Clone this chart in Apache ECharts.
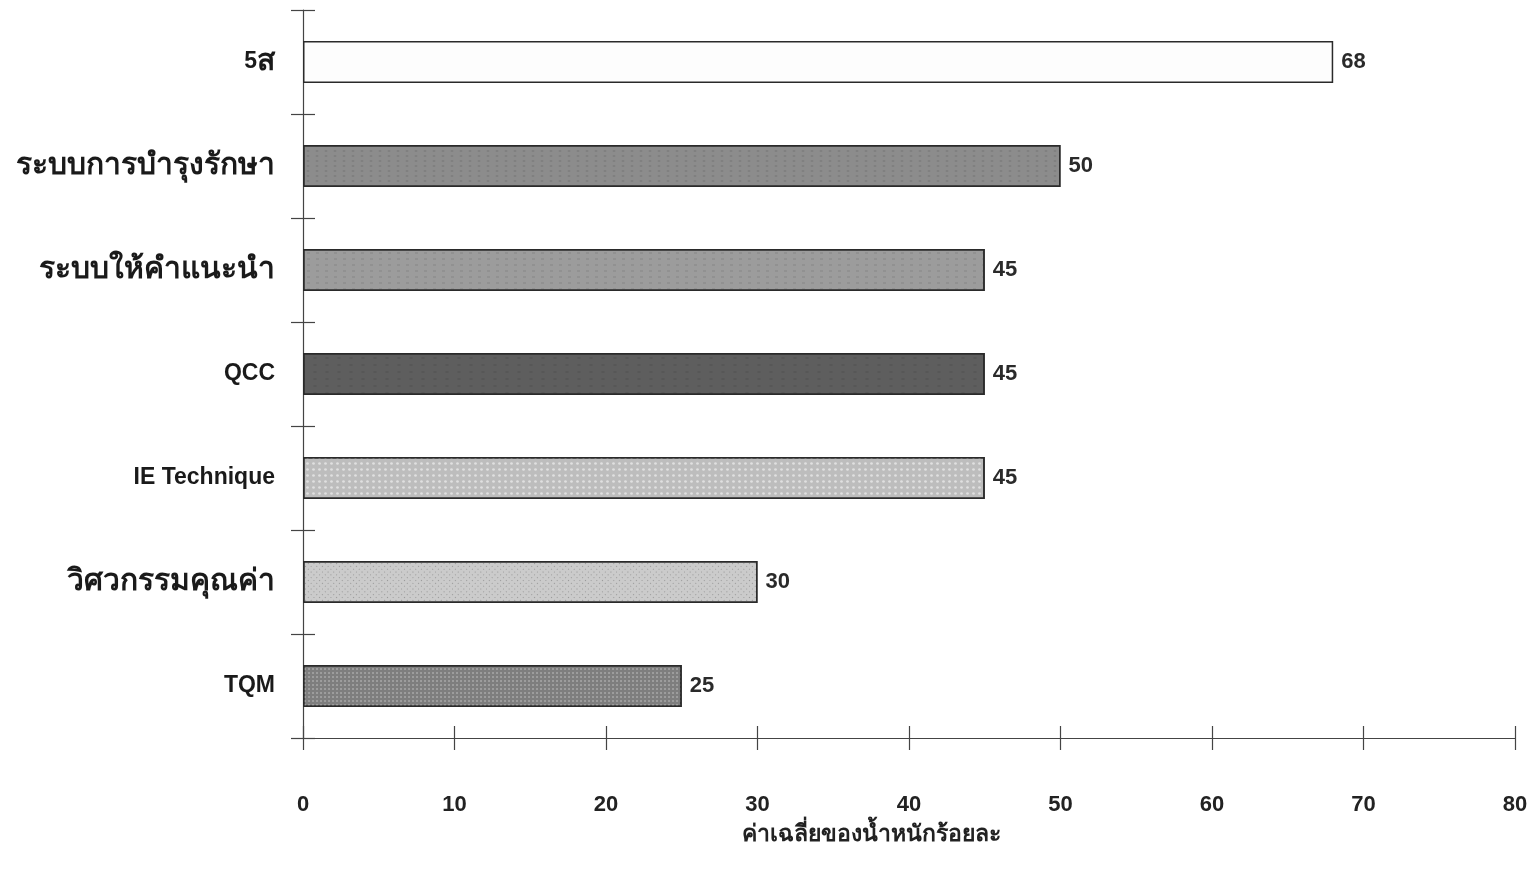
<!DOCTYPE html>
<html>
<head>
<meta charset="utf-8">
<script src="https://cdn.jsdelivr.net/npm/echarts@6/dist/echarts.min.js"></script>
<style>
  html, body { margin: 0; padding: 0; background: #ffffff; }
  #chart { width: 1533px; height: 877px; }
</style>
</head>
<body>
<div id="chart"></div>
<script>
// Categories listed top to bottom
const categories = ['5ส', 'ระบบการบำรุงรักษา', 'ระบบให้คำแนะนำ', 'QCC', 'IE Technique', 'วิศวกรรมคุณค่า', 'TQM'];
const values = [68, 50, 45, 45, 45, 30, 25];
const xTicks = [0, 10, 20, 30, 40, 50, 60, 70, 80];
const xTitle = 'ค่าเฉลี่ยของน้ำหนักร้อยละ';

// Fill and texture for each bar, top to bottom
const fills = ['#fdfdfd', '#8c8c8c', '#9c9c9c', '#5e5e5e', '#bdbdbd', '#cbcbcb', '#7e7e7e'];
const decals = [
  null,
  { symbol: 'rect', symbolSize: 0.6, dashArrayX: [[4, 5]], dashArrayY: [2, 3], color: 'rgba(60,60,60,0.25)' },
  { symbol: 'rect', symbolSize: 0.6, dashArrayX: [[5, 4]], dashArrayY: [2, 4], color: 'rgba(70,70,70,0.2)' },
  { symbol: 'rect', symbolSize: 0.5, dashArrayX: [[6, 6]], dashArrayY: [2, 5], color: 'rgba(40,40,40,0.25)' },
  { symbol: 'circle', symbolSize: 0.9, dashArrayX: [[3, 3]], dashArrayY: [3, 3], color: 'rgba(240,240,240,0.7)' },
  { symbol: 'rect', symbolSize: 1, dashArrayX: [[1, 3]], dashArrayY: [1, 3], rotation: Math.PI / 4, color: 'rgba(90,90,90,0.45)' },
  { symbol: 'rect', symbolSize: 0.8, dashArrayX: [[2, 2]], dashArrayY: [2, 2], color: 'rgba(220,220,220,0.55)' }
];

const font = "'Liberation Sans', Arial, 'Noto Sans', sans-serif";
const thaiRun = /([\u0E00-\u0E7F]+)/;

// Thai script runs get a larger rich style so they balance with the Latin labels
function splitScripts(s) {
  return s.split(thaiRun).filter(p => p.length).map(p =>
    thaiRun.test(p) ? '{th|' + p + '}' : '{la|' + p + '}'
  ).join('');
}

const chart = echarts.init(document.getElementById('chart'), null, { renderer: 'canvas' });

const seriesData = values.map((v, i) => ({
  value: v,
  itemStyle: Object.assign(
    { color: fills[i], borderColor: '#2a2a2a', borderWidth: 1.5 },
    decals[i] ? { decal: decals[i] } : {}
  )
}));

chart.setOption({
  animation: false,
  backgroundColor: '#ffffff',
  aria: { enabled: false, decal: { show: true } },
  title: {
    text: xTitle,
    left: 737,
    top: 818,
    textStyle: { fontFamily: font, fontSize: 23, fontWeight: 'bold', color: '#222' }
  },
  grid: { left: 303, right: 18, top: 10, bottom: 139, containLabel: false },
  xAxis: [
    {
      type: 'value', min: 0, max: 80, interval: 10,
      axisLine: { show: true, lineStyle: { color: '#444', width: 1.2 } },
      axisTick: { show: true, length: 12, lineStyle: { color: '#444', width: 1.2 } },
      axisLabel: {
        margin: 56, fontFamily: font, fontSize: 22, fontWeight: 'bold', color: '#222',
        formatter: v => (xTicks.indexOf(v) >= 0 ? String(v) : '')
      },
      splitLine: { show: false }
    },
    {
      type: 'value', min: 0, max: 80, interval: 10, position: 'bottom',
      axisLine: { show: false },
      axisTick: { show: true, inside: true, length: 12, lineStyle: { color: '#444', width: 1.2 } },
      axisLabel: { show: false },
      splitLine: { show: false }
    }
  ],
  yAxis: [
    {
      type: 'category', data: categories, inverse: true,
      axisLine: { show: true, lineStyle: { color: '#444', width: 1.2 } },
      axisTick: { show: true, length: 12, lineStyle: { color: '#444', width: 1.2 } },
      axisLabel: {
        margin: 28, fontFamily: font, fontSize: 23, fontWeight: 'bold', color: '#1a1a1a',
        formatter: splitScripts,
        rich: {
          th: { fontFamily: font, fontSize: 30, fontWeight: 'bold', color: '#1a1a1a' },
          la: { fontFamily: font, fontSize: 23, fontWeight: 'bold', color: '#1a1a1a' }
        }
      }
    },
    {
      type: 'category', data: categories, inverse: true, position: 'left',
      axisLine: { show: false },
      axisTick: { show: true, inside: true, length: 12, lineStyle: { color: '#444', width: 1.2 } },
      axisLabel: { show: false }
    }
  ],
  series: [{
    type: 'bar',
    data: seriesData,
    barWidth: 42,
    label: {
      show: true, position: 'right', distance: 8,
      fontFamily: font, fontSize: 22, fontWeight: 'bold', color: '#2a2a2a'
    }
  }]
});
</script>
</body>
</html>
